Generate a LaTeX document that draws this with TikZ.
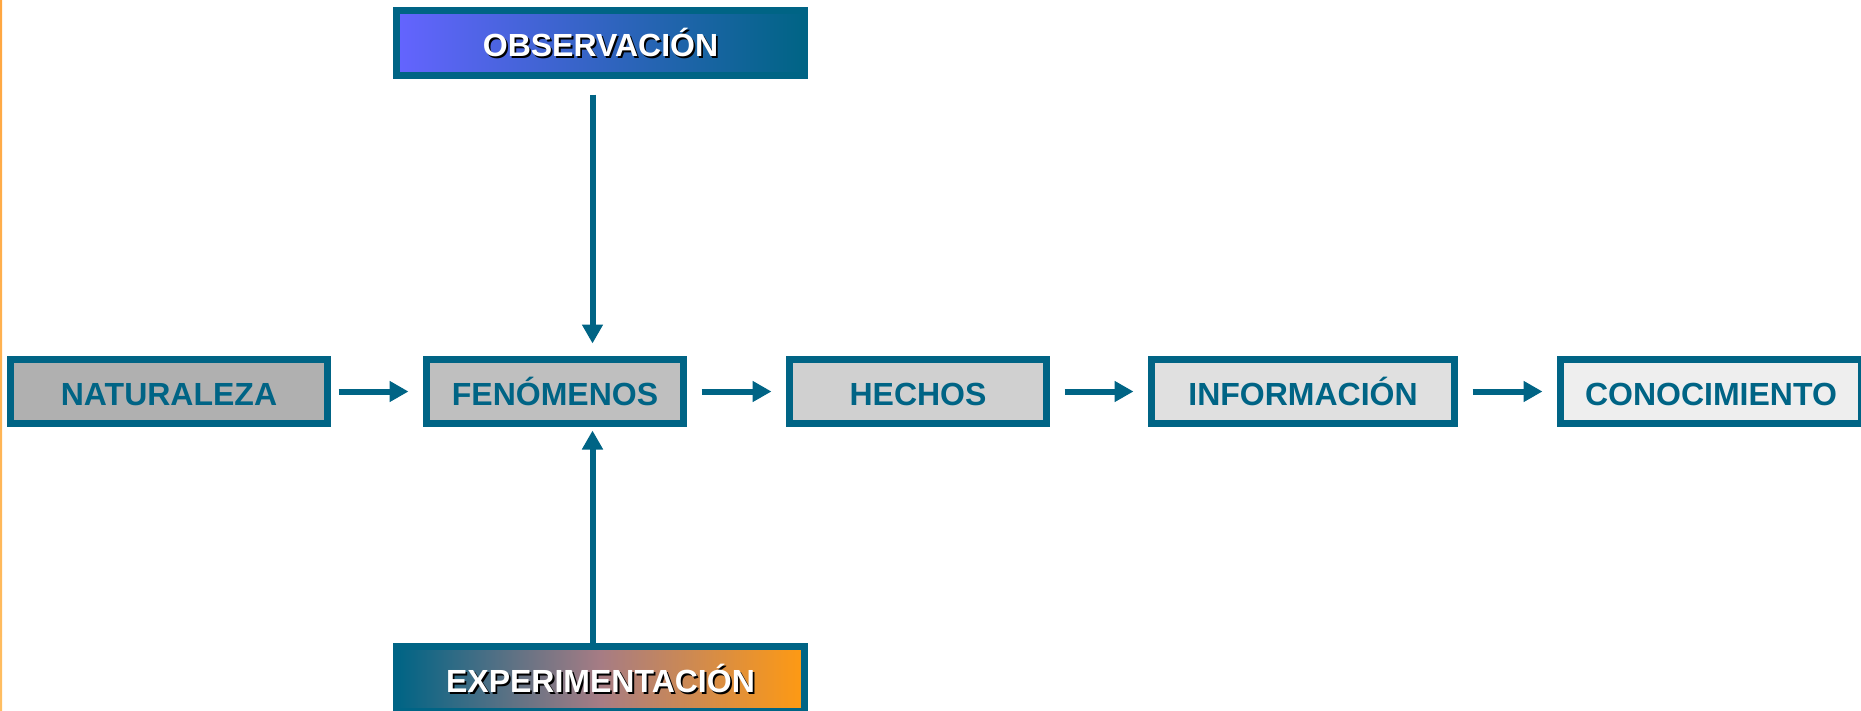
\documentclass[tikz,border=0pt]{standalone}
\usepackage{fontspec}
\setmainfont{Liberation Sans}
\usetikzlibrary{arrows.meta}
\definecolor{teal}{HTML}{006485}
\definecolor{violet}{HTML}{6464FF}
\definecolor{orangeend}{HTML}{FF9A12}
\definecolor{mauve}{HTML}{A67C84}
\definecolor{stripetop}{HTML}{FFA640}
\definecolor{stripebot}{HTML}{FFBE62}
\tikzset{
  x=1pt, y=-1pt,
  labelfont/.style={font=\fontsize{32}{36}\selectfont\bfseries,
    text height=27.5pt, text depth=0pt},
  stagebox/.style={draw=teal, line width=7pt, inner sep=0pt,
    minimum height=64pt, text=teal, labelfont},
  methodbox/.style={draw=teal, line width=7pt, inner sep=0pt,
    minimum width=408pt, minimum height=65pt},
  methodtext/.style={labelfont, text=white, inner sep=0pt},
  shadowtext/.style={labelfont, text=black, inner sep=0pt},
  flow/.style={draw=teal, line width=6pt,
    -{Triangle[length=19pt,width=20pt]}, shorten <=14.5pt, shorten >=14.5pt},
  vflow/.style={draw=teal, line width=6pt,
    -{Triangle[length=19pt,width=20pt]}}
}
\begin{document}
\begin{tikzpicture}
\useasboundingbox (0,0) rectangle (1861,710);
% thin orange stripe along the left edge
\shade[top color=stripetop, bottom color=stripebot] (0,0) rectangle (2.2,710);

% main chain
\node[stagebox, fill=black!31, minimum width=317pt] (nat) at (169,391.5) {NATURALEZA};
\node[stagebox, fill=black!25, minimum width=257pt] (fen) at (555,391.5) {FENÓMENOS};
\node[stagebox, fill=black!18.5, minimum width=257pt] (hec) at (918,391.5) {HECHOS};
\node[stagebox, fill=black!12, minimum width=303pt] (inf) at (1303,391.5) {INFORMACIÓN};
\node[stagebox, fill=black!6.5, minimum width=301pt] (con) at (1711,391.5) {CONOCIMIENTO};

% method boxes with shaded fill and shadowed white captions
\node[methodbox, left color=violet, right color=teal] (obs) at (600.5,43) {};
\node[shadowtext] (obsshadow) at ([xshift=1.8pt,yshift=-1.8pt]obs.center) {OBSERVACIÓN};
\node[methodtext] (obstext) at (obs.center) {OBSERVACIÓN};

% middle color must come after left/right color, which reset it
\node[methodbox, left color=teal, right color=orangeend, middle color=mauve] (exp) at (600.5,679) {};
\node[shadowtext] (expshadow) at ([xshift=1.8pt,yshift=-1.8pt]exp.center) {EXPERIMENTACIÓN};
\node[methodtext] (exptext) at (exp.center) {EXPERIMENTACIÓN};

% horizontal connectors
\draw[flow, shorten <=7.5pt] (nat) -- (fen);
\draw[flow] (fen) -- (hec);
\draw[flow] (hec) -- (inf);
\draw[flow] (inf) -- (con);

% vertical connectors into FENÓMENOS
\coordinate (vx) at (592.5,0);
\draw[vflow, shorten <=15.5pt, shorten >=12.5pt] (obs.south -| vx) -- (fen.north -| vx);
\draw[vflow, shorten >=3.5pt] (exp.north -| vx) -- (fen.south -| vx);
\end{tikzpicture}
\end{document}
